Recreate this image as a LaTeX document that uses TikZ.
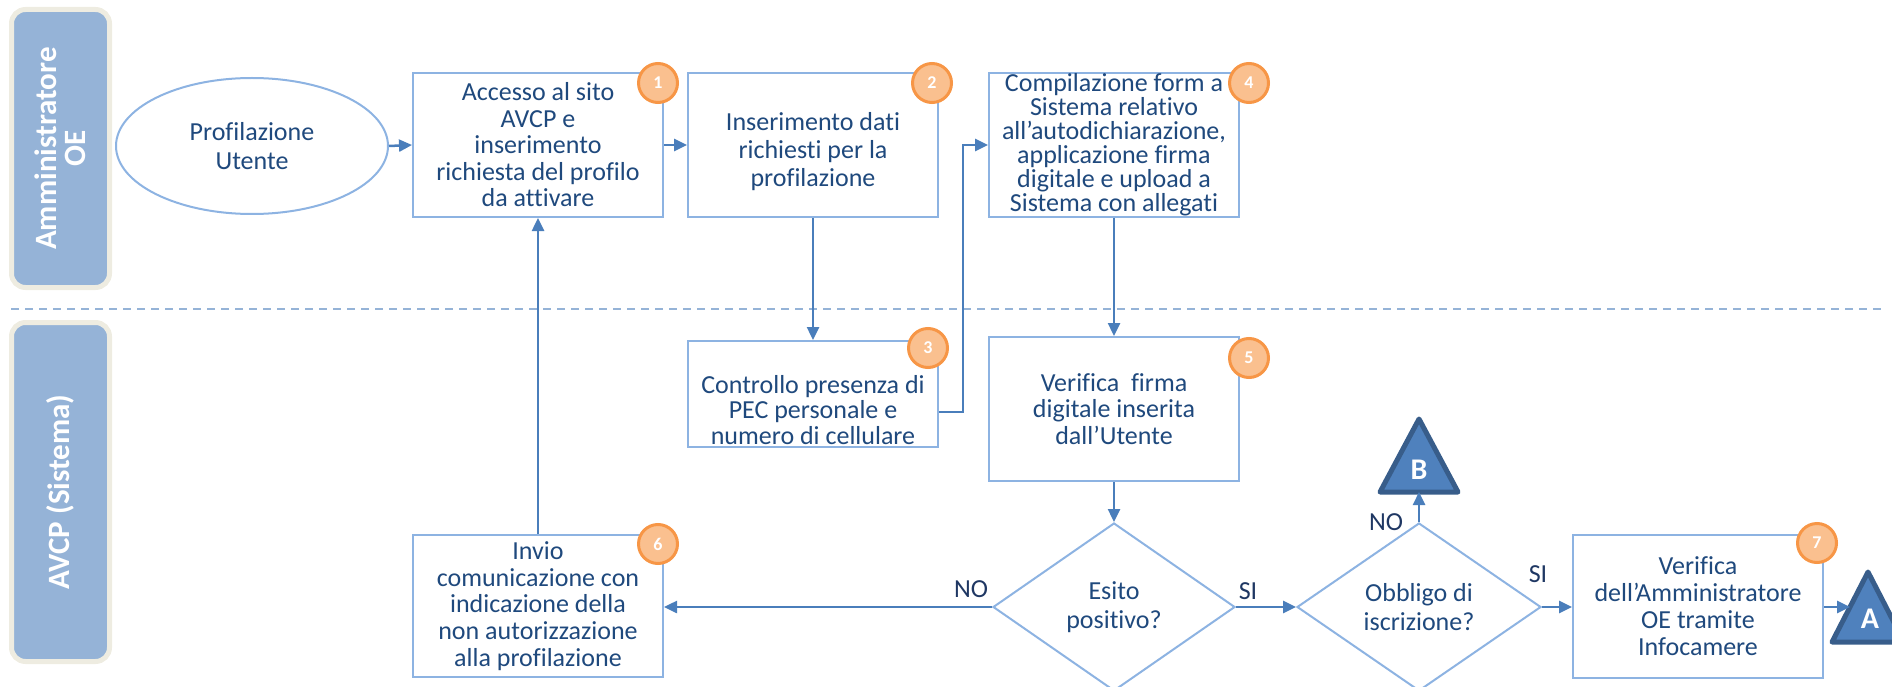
\documentclass[tikz,border=0pt]{standalone}
\usepackage{fontspec}
\setmainfont{Carlito}[Ligatures={NoCommon}]
\usetikzlibrary{arrows.meta,shapes.geometric}
\definecolor{lanefill}{HTML}{95B3D7}
\definecolor{laneborder}{HTML}{EEECE1}
\definecolor{boxline}{HTML}{8DB3E2}
\definecolor{arrowc}{HTML}{4A7EBB}
\definecolor{txt}{HTML}{1F497D}
\definecolor{lbl}{HTML}{1F3763}
\definecolor{badgefill}{HTML}{FAC08F}
\definecolor{badgeline}{HTML}{F79646}
\definecolor{trifill}{HTML}{4F81BD}
\definecolor{triline}{HTML}{385D8A}
\tikzset{
  lane/.style={rectangle, rounded corners=14pt, draw=laneborder, line width=5pt, fill=lanefill,
    text=white, align=center, inner sep=0pt, font=\bfseries\fontsize{31}{29}\selectfont},
  stepbox/.style={rectangle, draw=boxline, line width=2pt, fill=white, text=txt, align=center,
    inner sep=0pt, font=\fontsize{26}{26.5}\selectfont},
  dec/.style={diamond, draw=boxline, line width=2pt, fill=white, text=txt, align=center,
    inner sep=0pt, font=\fontsize{26}{29}\selectfont},
  badge/.style={circle, draw=badgeline, line width=3pt, fill=badgefill, text=white,
    minimum size=39pt, inner sep=0pt, font=\bfseries\fontsize{18}{18}\selectfont},
  conn/.style={draw=arrowc, line width=2.5pt, -{Triangle[length=13pt,width=12pt]}},
  lab/.style={text=lbl, font=\fontsize{26}{26}\selectfont, inner sep=0pt},
  tri/.style={draw=triline, fill=trifill, line width=5pt, line join=round},
  trilab/.style={text=white, font=\bfseries\fontsize{30}{30}\selectfont, inner sep=0pt}
}
\begin{document}
\begin{tikzpicture}[x=1pt,y=-1pt]
\useasboundingbox (0,0) rectangle (1892,687);

% lanes
\node[lane, rotate=90, minimum width=278pt, minimum height=98pt] (L1) at (60.5,148.5) {Amministratore\\OE};
\node[lane, rotate=90, minimum width=339pt, minimum height=98pt] (L2) at (60.5,492) {AVCP (Sistema)};
\draw[draw=lanefill, line width=2.5pt, dash pattern=on 8pt off 6pt] (11,309) -- (1882,309);

% nodes
\node[ellipse, draw=boxline, line width=2pt, fill=white, text=txt, align=center, inner sep=0pt,
  minimum width=272pt, minimum height=136pt, font=\fontsize{26}{29.5}\selectfont] (E) at (252,146) {Profilazione\\Utente};

\node[stepbox, minimum width=250pt, minimum height=144pt] (b1) at (538,145)
  {Accesso al sito\\AVCP e\\inserimento\\richiesta del profilo\\da attivare};
\node[stepbox, minimum width=250pt, minimum height=144pt] (b2) at (813,145)
  {};
\node[text=txt, align=center, font=\fontsize{26}{28}\selectfont] (b2t) at (813,152)
  {Inserimento dati\\richiesti per la\\profilazione};
\node[stepbox, minimum width=250pt, minimum height=144pt, font=\fontsize{26}{24}\selectfont] (b4) at (1114,145)
  {Compilazione form a\\Sistema relativo\\all’autodichiarazione,\\applicazione firma\\digitale e upload a\\Sistema con allegati};
\node[stepbox, minimum width=250pt, minimum height=106pt] (b3) at (813,394) {};
\node[text=txt, align=center, font=\fontsize{26}{25.5}\selectfont] (b3t) at (813,410)
  {Controllo presenza di\\PEC personale e\\numero di cellulare};
\node[stepbox, minimum width=250pt, minimum height=144pt] (b5) at (1114,409)
  {Verifica\ \ firma\\digitale inserita\\dall’Utente};
\node[stepbox, minimum width=250pt, minimum height=142pt, font=\fontsize{26}{26.7}\selectfont] (b6) at (538,606)
  {Invio\\comunicazione con\\indicazione della\\non autorizzazione\\alla profilazione};
\node[stepbox, minimum width=250pt, minimum height=143pt, font=\fontsize{26}{27}\selectfont] (b7) at (1698,606.5)
  {Verifica\\dell’Amministratore\\OE tramite\\Infocamere};

\node[dec, minimum width=242pt, minimum height=168pt] (d1) at (1114,607) {Esito\\positivo?};
\node[dec, minimum width=244pt, minimum height=168pt] (d2) at (1419,607) {Obbligo di\\iscrizione?};

% badges
\node[badge] (n1) at (658,83) {1};
\node[badge] (n2) at (932,83) {2};
\node[badge] (n3) at (928,348) {3};
\node[badge] (n4) at (1249,83) {4};
\node[badge] (n5) at (1249,358) {5};
\node[badge] (n6) at (658,544) {6};
\node[badge] (n7) at (1817,543) {7};

% off-page connectors
\draw[tri] (1419,419) -- (1458,492) -- (1380,492) -- cycle;
\coordinate (Bbase) at (1419,492);
\node[trilab] (Bl) at (1419,470) {B};
\draw[tri] (1868,572) -- (1904,642) -- (1832,642) -- cycle;
\coordinate (Aside) at (1850,607);
\node[trilab] (Al) at (1870,619) {A};

% arrows
\draw[conn] (E.east) -- (b1.west);
\draw[conn] (b1.east) -- (b2.west);
\draw[conn] (b2.south) -- (b3.north);
\coordinate (j1) at (963,412);
\draw[conn] (b3.east |- j1) -- (j1) |- (b4.west);
\draw[conn] (b4.south) -- (b5.north);
\draw[conn] (b5.south) -- (d1.north);
\draw[conn] (d1.west) -- (d1.west -| b6.east);
\draw[conn] (b6.north) -- (b1.south);
\draw[conn] (d1.east) -- (d2.west);
\draw[conn] (d2.north) -- (Bbase);
\draw[conn] (d2.east) -- (d2.east -| b7.west);
\draw[conn] (b7.east |- Aside) -- (Aside);

% labels
\node[lab] (lno1) at (971,589) {NO};
\node[lab] (lsi1) at (1248,591) {SI};
\node[lab] (lno2) at (1386,522) {NO};
\node[lab] (lsi2) at (1538,574) {SI};
\end{tikzpicture}
\end{document}
